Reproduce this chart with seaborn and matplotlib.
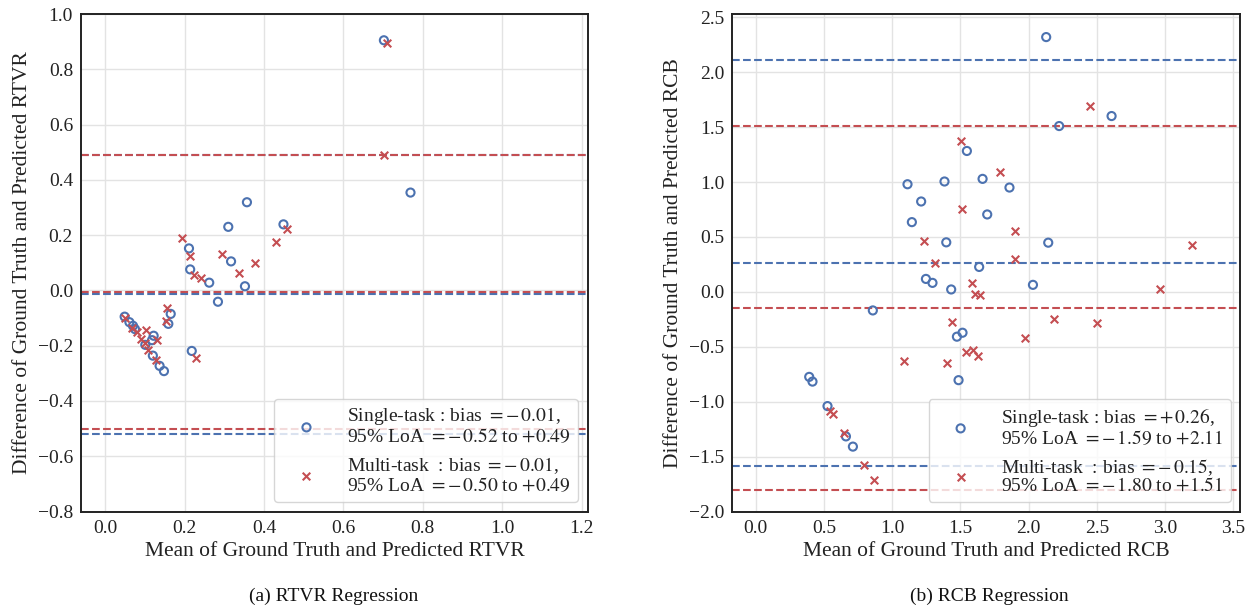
import numpy as np
import pandas as pd
import matplotlib
matplotlib.use("Agg")
import matplotlib.pyplot as plt
import seaborn as sns

# ---------------- data ----------------
# (a) RTVR
rtvr_single_mean = [0.702, 0.769, 0.357, 0.449, 0.310, 0.211, 0.317, 0.214, 0.262, 0.352, 0.284, 0.165,
                    0.049, 0.061, 0.159, 0.070, 0.075, 0.122, 0.101, 0.218, 0.120, 0.137, 0.148, 0.118]
rtvr_single_diff = [0.905, 0.354, 0.319, 0.239, 0.230, 0.152, 0.105, 0.076, 0.028, 0.015, -0.041, -0.085,
                    -0.095, -0.115, -0.121, -0.128, -0.140, -0.164, -0.197, -0.219, -0.236, -0.273, -0.292, -0.180]
rtvr_multi_mean = [0.709, 0.702, 0.457, 0.193, 0.429, 0.293, 0.214, 0.377, 0.337, 0.224, 0.241, 0.155,
                   0.049, 0.153, 0.067, 0.102, 0.090, 0.130, 0.101, 0.109, 0.229, 0.128, 0.080]
rtvr_multi_diff = [0.896, 0.491, 0.222, 0.188, 0.176, 0.130, 0.125, 0.100, 0.064, 0.055, 0.045, -0.063,
                   -0.100, -0.109, -0.137, -0.145, -0.176, -0.179, -0.190, -0.216, -0.245, -0.251, -0.150]
rtvr_single_lines = [-0.012, -0.52, 0.49]   # bias, lower LoA, upper LoA
rtvr_multi_lines = [-0.006, -0.50, 0.49]

# (b) RCB
rcb_single_mean = [2.128, 2.607, 2.223, 1.547, 1.662, 1.383, 1.112, 1.859, 1.212, 1.696, 1.144, 1.396, 2.143, 1.637,
                   1.247, 1.295, 2.031, 1.432, 0.858, 1.515, 1.474, 0.392, 0.416, 1.486, 0.526, 0.661, 0.712]
rcb_single_diff = [2.32, 1.601, 1.510, 1.283, 1.029, 1.005, 0.980, 0.950, 0.823, 0.705, 0.635, 0.451, 0.448, 0.227,
                   0.118, 0.082, 0.064, 0.022, -0.169, -0.372, -0.408, -0.774, -0.817, -0.804, -1.040, -1.316, -1.409]
rcb_multi_mean = [2.448, 1.506, 1.786, 1.510, 1.901, 1.234, 3.196, 1.899, 1.310, 1.581, 2.963, 1.610, 1.642, 2.185,
                  1.440, 2.500, 1.972, 1.542, 1.591, 1.625, 1.088, 1.405, 0.541, 0.563, 0.646, 0.795, 0.863]
rcb_multi_diff = [1.697, 1.374, 1.095, 0.753, 0.554, 0.460, 0.426, 0.303, 0.263, 0.085, 0.024, -0.018, -0.033, -0.248,
                  -0.278, -0.287, -0.423, -0.544, -0.532, -0.586, -0.629, -0.644, -1.083, -1.113, -1.289, -1.579, -1.711]
rcb_single_lines = [0.26, -1.59, 2.11]
rcb_multi_lines = [-0.15, -1.80, 1.51]

legend_rtvr = ["Single-task : bias $= -\\,0.01$,\n95% LoA $= -\\,0.52$ to $+0.49$",
               "Multi-task  : bias $= -\\,0.01$,\n95% LoA $= -\\,0.50$ to $+0.49$"]
legend_rcb = ["Single-task : bias $= +\\,0.26$,\n95% LoA $= -\\,1.59$ to $+2.11$",
              "Multi-task  : bias $= -\\,0.15$,\n95% LoA $= -\\,1.80$ to $+1.51$"]

xlabels = ["Mean of Ground Truth and Predicted RTVR", "Mean of Ground Truth and Predicted RCB"]
ylabels = ["Difference of Ground Truth and Predicted RTVR", "Difference of Ground Truth and Predicted RCB"]
captions = ["(a) RTVR Regression", "(b) RCB Regression"]

BLUE = "#4C72B0"
RED = "#C44E52"

# ---------------- style ----------------
sns.set_theme(style="whitegrid")
plt.rcParams["font.family"] = ["Liberation Serif", "DejaVu Serif"]
plt.rcParams["mathtext.fontset"] = "stix"
plt.rcParams["axes.edgecolor"] = "#222222"
plt.rcParams["axes.linewidth"] = 1.4
plt.rcParams["grid.color"] = "#e3e3e3"
plt.rcParams["grid.linewidth"] = 1.0

fig = plt.figure(figsize=(12.56, 6.07), dpi=100)
ax1 = fig.add_axes([0.0648, 0.1573, 0.403, 0.8196])
ax2 = fig.add_axes([0.5832, 0.1573, 0.4043, 0.8196])


def panel(ax, sm, sd, mm, md, sl, ml, labels, xlim, ylim, xticks, yticks, xl, yl):
    for v in sl:
        ax.axhline(v, color=BLUE, ls="--", lw=1.5, zorder=2)
    for v in ml:
        ax.axhline(v, color=RED, ls="--", lw=1.5, zorder=2)
    ds = pd.DataFrame({"mean": sm, "diff": sd})
    dm = pd.DataFrame({"mean": mm, "diff": md})
    sns.scatterplot(data=ds, x="mean", y="diff", ax=ax, marker="o", s=34,
                    color=BLUE, facecolor="none", edgecolor=BLUE, linewidth=1.5,
                    label=labels[0], zorder=3)
    sns.scatterplot(data=dm, x="mean", y="diff", ax=ax, marker="x", s=30,
                    color=RED, linewidth=1.5, label=labels[1], zorder=3)
    ax.set_xlim(*xlim)
    ax.set_ylim(*ylim)
    ax.set_xticks(xticks)
    ax.set_yticks(yticks)
    ax.tick_params(labelsize=14, length=0, pad=6, colors="#222222")
    ax.set_xlabel(xl, fontsize=15.5, color="#222222")
    ax.set_ylabel(yl, fontsize=15.5, color="#222222")
    leg = ax.legend(loc="lower right", fontsize=14, frameon=True, framealpha=0.8,
                    edgecolor="#cccccc", markerscale=1.0, handletextpad=0.8,
                    labelspacing=0.45, borderpad=0.35, handlelength=2.6)
    for t in leg.get_texts():
        t.set_color("#222222")
        t.set_linespacing(1.0)
    for s in ax.spines.values():
        s.set_visible(True)


panel(ax1, rtvr_single_mean, rtvr_single_diff, rtvr_multi_mean, rtvr_multi_diff,
      rtvr_single_lines, rtvr_multi_lines, legend_rtvr,
      (-0.06, 1.215), (-0.8, 1.0), np.arange(0, 1.21, 0.2), np.arange(-0.8, 1.01, 0.2),
      xlabels[0], ylabels[0])
panel(ax2, rcb_single_mean, rcb_single_diff, rcb_multi_mean, rcb_multi_diff,
      rcb_single_lines, rcb_multi_lines, legend_rcb,
      (-0.17, 3.55), (-2.0, 2.53), np.arange(0, 3.51, 0.5), np.arange(-2.0, 2.51, 0.5),
      xlabels[1], ylabels[1])

fig.text(0.266, 0.018, captions[0], ha="center", va="center", fontsize=14, color="#111111")
fig.text(0.788, 0.018, captions[1], ha="center", va="center", fontsize=14, color="#111111")

fig.savefig("out.png", dpi=100)
